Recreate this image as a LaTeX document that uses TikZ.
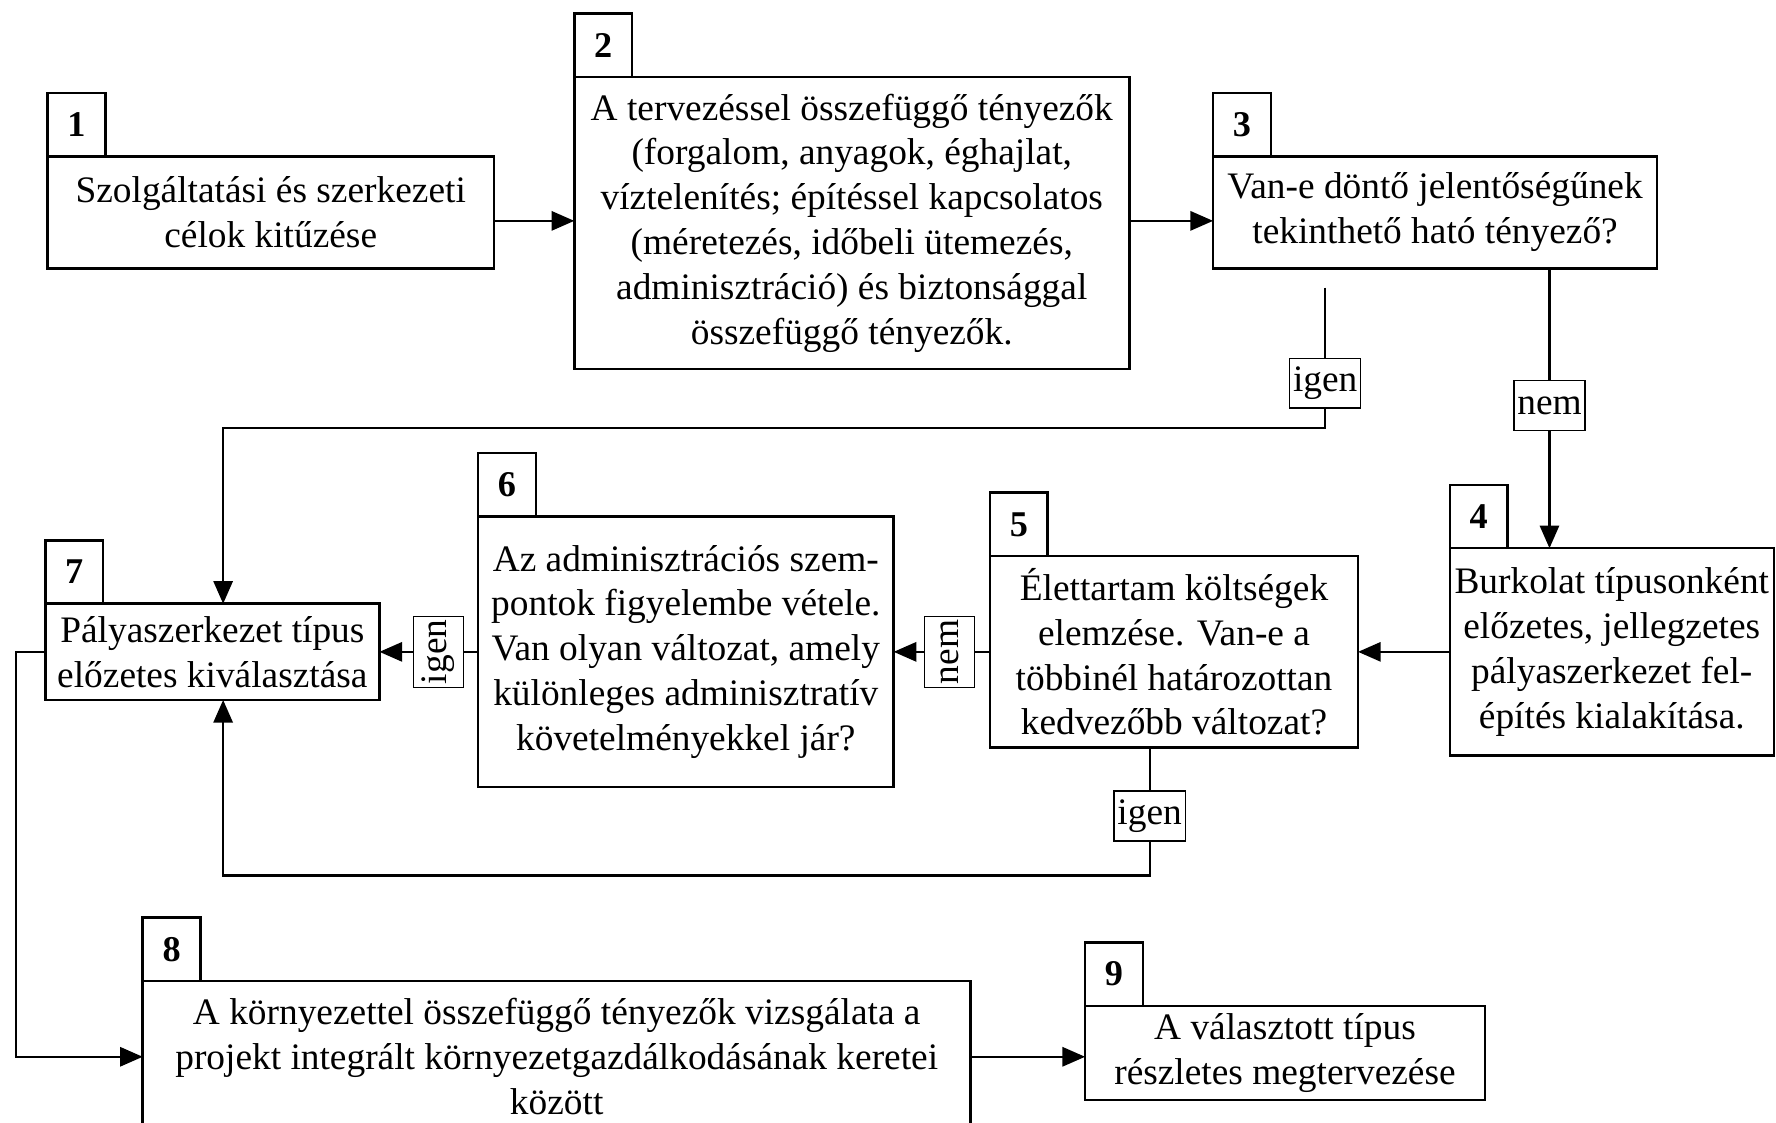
\documentclass[tikz,border=0pt]{standalone}
\usepackage{fontspec}
\setmainfont{Liberation Serif}
\usetikzlibrary{arrows.meta}
\begin{document}
\begin{tikzpicture}[x=1pt,y=-1pt,
  box/.style={draw,line width=2.2pt,inner sep=0pt,outer sep=0pt,align=center,
    font=\fontsize{33}{39.6}\selectfont},
  numbox/.style={draw,line width=2.2pt,inner sep=0pt,outer sep=0pt,minimum width=51pt,
    minimum height=56pt,font=\fontsize{32}{32}\selectfont\bfseries,anchor=south west},
  lbl/.style={draw,fill=white,line width=1.2pt,inner xsep=3pt,inner ysep=0pt,
    minimum height=44pt,font=\fontsize{33}{33}\selectfont},
  conn/.style={line width=2pt},
  arr/.style={conn,-{Triangle[length=20pt,width=17pt]}}]
\useasboundingbox (0,0) rectangle (1568,991);
\fill[white] (0,0) rectangle (1568,991);

\node[box,minimum width=394pt,minimum height=99pt] (b1) at (239,187.5)
  {Szolgáltatási és szerkezeti\\célok kitűzése};
\node[numbox] (n1) at (b1.north west) {1};

\node[box,minimum width=490pt,minimum height=258pt] (b2) at (752,197)
  {A tervezéssel összefüggő tényezők\\(forgalom, anyagok, éghajlat,\\víztelenítés; építéssel kapcsolatos\\(méretezés, időbeli ütemezés,\\adminisztráció) és biztonsággal\\összefüggő tényezők.};
\node[numbox] (n2) at (b2.north west) {2};

\node[box,minimum width=392pt,minimum height=99pt] (b3) at (1267,187.5)
  {Van-e döntő jelentőségűnek\\tekinthető ható tényező?};
\node[numbox] (n3) at (b3.north west) {3};

\node[box,minimum width=286pt,minimum height=183pt] (b4) at (1423,575.5)
  {Burkolat típusonként\\előzetes, jellegzetes\\pályaszerkezet fel-\\építés kialakítása.};
\node[numbox] (n4) at (b4.north west) {4};

\node[box,minimum width=325pt,minimum height=169pt] (b5) at (1036.5,575.5)
  {Élettartam költségek\\elemzése. Van-e a\\többinél határozottan\\kedvezőbb változat?};
\node[numbox] (n5) at (b5.north west) {5};

\node[box,minimum width=367pt,minimum height=239pt] (b6) at (605.5,575.5)
  {Az adminisztrációs szem-\\pontok figyelembe vétele.\\Van olyan változat, amely\\különleges adminisztratív\\követelményekkel jár?};
\node[numbox] (n6) at (b6.north west) {6};

\node[box,minimum width=295pt,minimum height=85pt] (b7) at (187.5,575.5)
  {Pályaszerkezet típus\\előzetes kiválasztása};
\node[numbox] (n7) at (b7.north west) {7};

\node[box,minimum width=731pt,minimum height=134pt] (b8) at (491.5,933)
  {A környezettel összefüggő tényezők vizsgálata a\\projekt integrált környezetgazdálkodásának keretei\\között};
\node[numbox] (n8) at (b8.north west) {8};

\node[box,minimum width=353pt,minimum height=83pt] (b9) at (1134.5,929.5)
  {A választott típus\\részletes megtervezése};
\node[numbox] (n9) at (b9.north west) {9};

\coordinate (y12) at (0,195);
\draw[arr] (b1.east |- y12) -- (b2.west |- y12);
\draw[arr] (b2.east |- y12) -- (b3.west |- y12);

\coordinate (x7) at (197,0);
\coordinate (g3) at (1170,254);
\coordinate (g3b) at (1170,378);
\draw[arr] (g3) -- node[lbl,pos=0.68]{igen} (g3b) -| (b7.north -| x7);

\coordinate (xn) at (1368,0);
\draw[arr] (b3.south -| xn) -- node[lbl,pos=0.49]{nem} (b4.north -| xn);

\draw[arr] (b4.west) -- (b5.east);
\draw[arr] (b5.west) -- node[lbl,rotate=90,pos=0.42]{nem} (b6.east);
\draw[arr] (b6.west) -- node[lbl,rotate=90,pos=0.40]{igen} (b7.east);

\coordinate (x5) at (1015,0);
\coordinate (y5) at (0,773);
\draw[arr] (b5.south -| x5) -- node[lbl,pos=0.535]{igen} (x5 |- y5) -| (b7.south -| x7);

\coordinate (x0) at (14,0);
\draw[arr] (b7.west) -| (x0 |- b8.west) -- (b8.west);
\draw[arr] (b8.east) -- (b9.west |- b8.east);
\end{tikzpicture}
\end{document}
